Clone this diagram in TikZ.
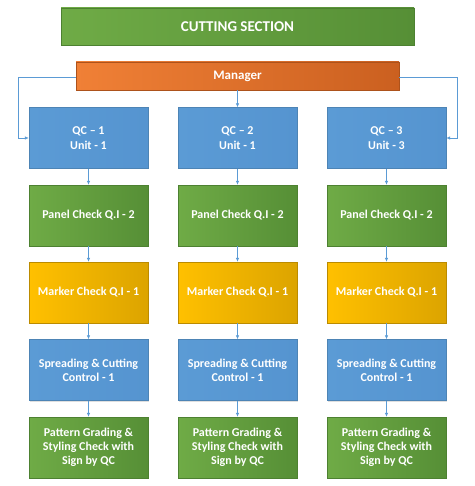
\documentclass[tikz,border=0pt]{standalone}
\usepackage{fontspec}
\setmainfont{Carlito}
\usetikzlibrary{arrows.meta,shadows}
\definecolor{gA}{HTML}{6FAB46}
\definecolor{gB}{HTML}{568F36}
\definecolor{oA}{HTML}{F08036}
\definecolor{oB}{HTML}{CB6020}
\definecolor{bA}{HTML}{5B9BD5}
\definecolor{bB}{HTML}{5594D0}
\definecolor{yA}{HTML}{FFC000}
\definecolor{yB}{HTML}{DCA400}
\definecolor{ln}{HTML}{5B9BD5}
\tikzset{
  x=1pt,y=-1pt,
  boxbase/.style={rectangle,draw=#1,line width=0.4pt,text=white,font=\bfseries\fontsize{12}{14.3}\selectfont,align=center,inner sep=0pt,minimum width=119pt,minimum height=61pt,drop shadow={shadow xshift=1pt,shadow yshift=-1pt,opacity=0.25}},
  greenbox/.style={boxbase=gB!90!black,left color=gA,right color=gB},
  bluebox/.style={boxbase=bA!85!black,left color=bA,right color=bB},
  goldbox/.style={boxbase=yB!85!black,left color=yA,right color=yB},
  orangebox/.style={boxbase=oB!85!black,left color=oA,right color=oB},
  conn/.style={draw=ln,line width=0.6pt,-{Latex[length=4pt,width=3.5pt]}}
}
\begin{document}
\begin{tikzpicture}
\useasboundingbox (0,0) rectangle (474,486);
\node[greenbox,minimum width=353pt,minimum height=37pt,font=\bfseries\fontsize{15}{18}\selectfont] (title) at (237.5,26.5) {CUTTING SECTION};
\node[orangebox,minimum width=323pt,minimum height=28pt,font=\bfseries\fontsize{13}{15}\selectfont] (mgr) at (237.5,76) {Manager};
\foreach \i/\cx/\q/\u in {1/88.5/1/1,2/237.5/2/1,3/386.5/3/3}{
  \node[bluebox] (qc\i) at (\cx,138) {QC -- \q\\Unit - \u};
  \node[greenbox] (pan\i) at (\cx,215.5) {Panel Check Q.I - 2};
  \node[goldbox] (mark\i) at (\cx,292.5) {Marker Check Q.I - 1};
  \node[bluebox] (spr\i) at (\cx,370) {Spreading \& Cutting\\Control - 1};
  \node[greenbox] (pat\i) at (\cx,447.5) {Pattern Grading \&\\Styling Check with\\Sign by QC};
  \draw[conn] (qc\i) -- (pan\i);
  \draw[conn] (pan\i) -- (mark\i);
  \draw[conn] (mark\i) -- (spr\i);
  \draw[conn] (spr\i) -- (pat\i);
}
\coordinate (lc) at (18,77);
\coordinate (rc) at (457,77);
\draw[conn] (mgr) -- (qc2);
\draw[conn] (mgr.west |- lc) -- (lc) |- (qc1.west);
\draw[conn] (mgr.east |- rc) -- (rc) |- (qc3.east);
\end{tikzpicture}
\end{document}
